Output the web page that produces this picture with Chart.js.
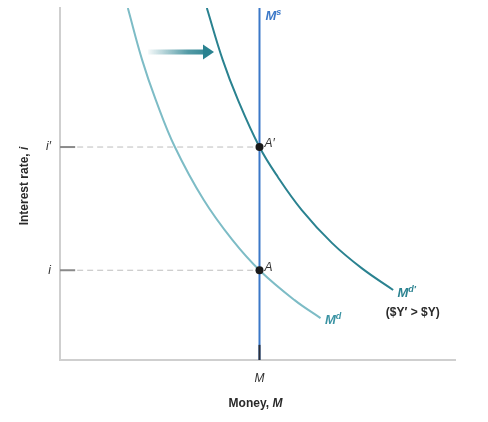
<!DOCTYPE html>
<html><head><meta charset="utf-8">
<script src="https://cdn.jsdelivr.net/npm/chart.js@4"></script>
<style>html,body{margin:0;padding:0;background:#fff}#wrap{width:488px;height:422px}</style>
</head><body><div id="wrap"><canvas id="c" width="488" height="422"></canvas></div>
<script>
// ---- data ----
const moneyTickLabels = ['M'];
const moneySupply = 50;
const rateTicks = [25.5, 60.5];
const rateTickLabels = ['i', 'i\u2032'];
const mdX = [17.0, 20.6, 24.0, 28.8, 36.0, 43.2, 50.0, 58.8, 65.3];
const mdY = [100, 85.2, 73.9, 60.5, 45.5, 34.1, 25.5, 17.0, 11.9];
const mdPrimeX = [36.8, 40.8, 44.6, 50.0, 54.6, 60.6, 68.2, 75.6, 83.5];
const mdPrimeY = [100, 85.2, 73.9, 60.5, 52.0, 42.6, 33.2, 26.1, 19.9];
const equilibriumLabels = ['A', 'A\u2032'];
const equilibriumRates = [25.5, 60.5];

const FONT = "'Liberation Sans', Arial, Helvetica, sans-serif";
const C_LIGHT = '#7dbcc6';
const C_DARK = '#2a8290';
const C_BLUE = '#3b78c8';

const zip = (xs, ys) => xs.map((x, i) => ({x, y: ys[i]}));

const datasets = [
  {label:'eq', data: equilibriumRates.map(r => ({x: moneySupply, y: r})), showLine:false,
   pointRadius:4, pointBackgroundColor:'#1a1a1a', pointBorderWidth:0, order:0},
  {label:'tickM', data:[{x:moneySupply,y:0},{x:moneySupply,y:4.3}], showLine:true, borderColor:'#2b2f3a', borderWidth:2, pointRadius:0, order:1},
  {label:'Ms', data:[{x:moneySupply,y:0},{x:moneySupply,y:100}], showLine:true, borderColor:C_BLUE, borderWidth:2, pointRadius:0, order:2},
  {label:'MdP', data: zip(mdPrimeX, mdPrimeY), showLine:true, borderColor:C_DARK, borderWidth:2, pointRadius:0, tension:0.4, order:3},
  {label:'Md', data: zip(mdX, mdY), showLine:true, borderColor:C_LIGHT, borderWidth:2, pointRadius:0, tension:0.4, order:4},
];
rateTicks.forEach((r, k) => {
  datasets.push({label:'dash'+k, data:[{x:4.3,y:r},{x:moneySupply,y:r}], showLine:true, borderColor:'#bdbdbd', borderWidth:1, borderDash:[6,4], pointRadius:0, order:5});
  datasets.push({label:'ytick'+k, data:[{x:0,y:r},{x:3.8,y:r}], showLine:true, borderColor:'#8a8a8a', borderWidth:2, pointRadius:0, order:5});
});

function drawRich(ctx, parts, x, y, align) {
  let w = 0;
  parts.forEach(p => { ctx.font = p[1]; w += ctx.measureText(p[0]).width; });
  let cx = align === 'center' ? x - w/2 : (align === 'right' ? x - w : x);
  ctx.textAlign = 'left'; ctx.textBaseline = 'middle';
  parts.forEach(p => { ctx.font = p[1]; ctx.fillText(p[0], cx, y + (p[2]||0)); cx += ctx.measureText(p[0]).width; });
}

const annot = {
  id:'annot',
  afterDatasetsDraw(chart) {
    const ctx = chart.ctx, xs = chart.scales.x, ys = chart.scales.y, a = chart.chartArea;
    const X = v => xs.getPixelForValue(v), Y = v => ys.getPixelForValue(v);
    ctx.save();
    const ax1 = X(22.1), ax2 = X(38.6), ay = Y(87.5);
    const g = ctx.createLinearGradient(ax1, 0, ax2, 0);
    g.addColorStop(0, 'rgba(42,130,144,0.05)');
    g.addColorStop(0.6, 'rgba(42,130,144,0.8)');
    g.addColorStop(1, C_DARK);
    ctx.fillStyle = g;
    ctx.fillRect(ax1, ay - 2.5, ax2 - ax1 - 9, 5);
    ctx.beginPath();
    ctx.moveTo(ax2 - 11, ay - 7.5); ctx.lineTo(ax2, ay); ctx.lineTo(ax2 - 11, ay + 7.5); ctx.closePath();
    ctx.fillStyle = C_DARK; ctx.fill();

    const bi = s => `italic bold ${s}px ${FONT}`;
    ctx.fillStyle = C_BLUE;
    drawRich(ctx, [['M', bi(13)], ['s', bi(9), -4]], X(moneySupply) + 6, Y(97.5), 'left');
    ctx.fillStyle = '#3a93a3';
    drawRich(ctx, [['M', bi(13)], ['d', bi(9), -4]], X(66.4), Y(11.2), 'left');
    ctx.fillStyle = C_DARK;
    drawRich(ctx, [['M', bi(13)], ['d\u2032', bi(9), -4]], X(84.6), Y(18.9), 'left');
    ctx.fillStyle = '#2a2a2a';
    drawRich(ctx, [['($Y\u2032 > $Y)', `bold 12px ${FONT}`]], X(88.4), Y(13.3), 'center');
    ctx.fillStyle = '#333';
    equilibriumRates.forEach((r, k) => {
      drawRich(ctx, [[equilibriumLabels[k], `italic 12px ${FONT}`]], X(moneySupply) + 5, Y(r) - 3, 'left');
    });
    ctx.fillStyle = '#2a2a2a';
    drawRich(ctx, [['Money, ', `bold 12px ${FONT}`], ['M', bi(12)]], X(moneySupply) - 4, chart.height - 18, 'center');
    ctx.translate(25, (a.top + a.bottom)/2 + 2);
    ctx.rotate(-Math.PI/2);
    drawRich(ctx, [['Interest rate, ', `bold 12px ${FONT}`], ['i', bi(12)]], 0, 0, 'center');
    ctx.restore();
  }
};

new Chart(document.getElementById('c'), {
  type:'scatter',
  data:{datasets},
  plugins:[annot],
  options:{
    responsive:false, animation:false,
    layout:{padding:{left:0, top:8, right:33, bottom:0}},
    plugins:{legend:{display:false}, tooltip:{enabled:false}},
    scales:{
      x:{type:'linear', min:0, max:99,
        grid:{display:false, drawTicks:false},
        border:{display:true, color:'#cfcfcf', width:2},
        afterBuildTicks: s => { s.ticks = [{value: moneySupply}]; },
        ticks:{padding:11, color:'#333', font:{family:FONT, size:12, style:'italic'}, callback:(v, i) => moneyTickLabels[i]},
        afterFit: s => { s.height = 62; s.paddingLeft = 0; s.paddingRight = 0; }
      },
      y:{type:'linear', min:0, max:100,
        grid:{display:false, drawTicks:false},
        border:{display:true, color:'#cfcfcf', width:2},
        afterBuildTicks: s => { s.ticks = rateTicks.map(v => ({value:v})); },
        ticks:{padding:9, color:'#333', font:{family:FONT, size:12, style:'italic'}, callback:(v, i) => rateTickLabels[i]},
        afterFit: s => { s.width = 60; s.paddingTop = 0; s.paddingBottom = 0; }
      }
    }
  }
});
</script></body></html>
